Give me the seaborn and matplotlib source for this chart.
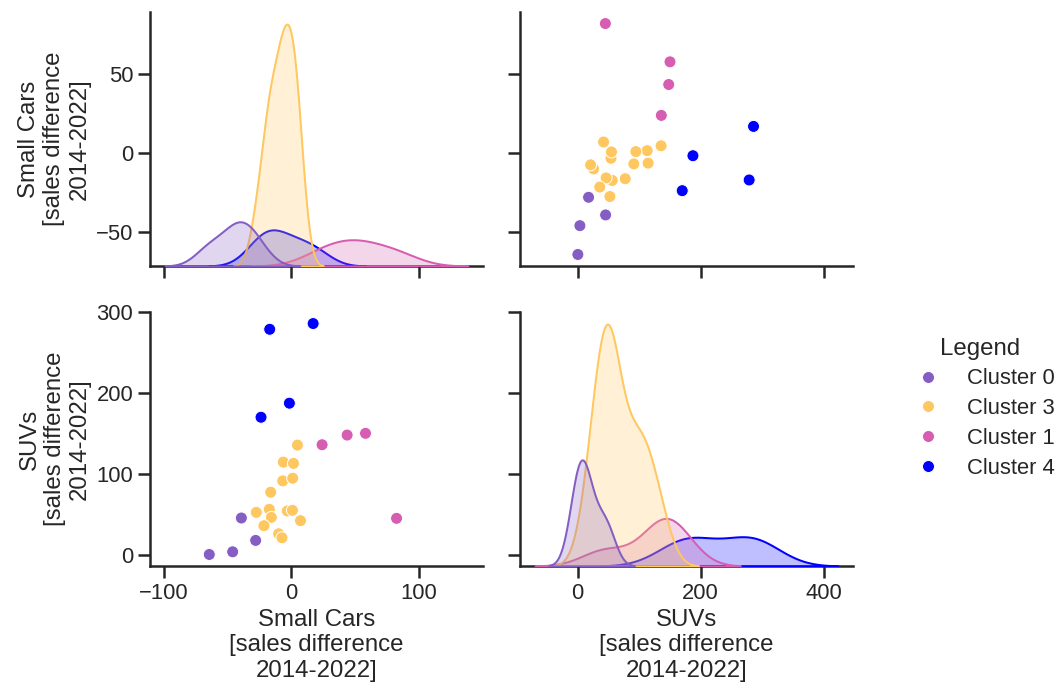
import matplotlib
matplotlib.use("Agg")
import matplotlib.pyplot as plt
import pandas as pd
import seaborn as sns

# Sales differences 2014-2022 per segment, grouped by cluster
clusters = (["Cluster 0"] * 4 + ["Cluster 3"] * 15 +
            ["Cluster 1"] * 4 + ["Cluster 4"] * 4)

small_cars = [-64.3, -46.0, -28.0, -39.2,
              4.7, -6.3, 1.6, -6.8, 1.0, -16.2, -27.5, -17.3, -15.7, -21.5,
              -3.2, 0.8, 7.1, -10.0, -7.4,
              24.0, 43.6, 58.0, 82.3,
              -17.0, 17.0, -1.6, -23.8]

suvs = [0.4, 3.7, 17.8, 45.5,
        135.7, 114.6, 113.0, 91.4, 94.7, 77.4, 52.5, 56.3, 46.3, 36.0,
        54.2, 55.0, 42.2, 26.0, 21.1,
        136.1, 148.1, 150.2, 45.1,
        278.9, 286.0, 187.5, 170.1]

cluster_order = ["Cluster 0", "Cluster 3", "Cluster 1", "Cluster 4"]
cluster_colors = ["#845EC2", "#FFC75F", "#D65DB1", "#0000FF"]

x_label = "Small Cars\n[sales difference\n2014-2022]"
y_label = "SUVs\n[sales difference\n2014-2022]"

df = pd.DataFrame({x_label: small_cars, y_label: suvs, "Legend": clusters})

sns.set_theme(style="ticks", context="talk")
plt.rcParams["font.family"] = ["Liberation Sans", "DejaVu Sans"]

g = sns.pairplot(df, hue="Legend", hue_order=cluster_order,
                 palette=dict(zip(cluster_order, cluster_colors)))

DPI = 96
g.figure.set_size_inches(1059 / DPI, 686 / DPI)
g.figure.subplots_adjust(left=0.1416, right=0.8055, bottom=0.1749,
                         top=0.9825, wspace=0.111, hspace=0.181)

sns.move_legend(g, "center left", bbox_to_anchor=(0.8366, 0.405),
                bbox_transform=g.figure.transFigure, labelspacing=0.4,
                frameon=False)

g.figure.savefig("out.png", dpi=DPI)
